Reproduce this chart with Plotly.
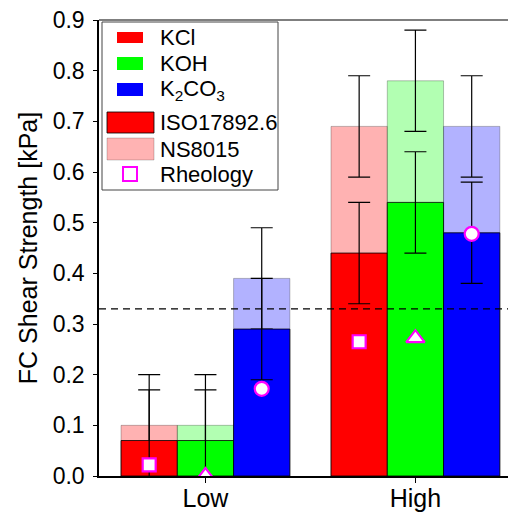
import plotly.graph_objects as go

groups = ["Low", "High"]
colors = ["#ff0000", "#00ff00", "#0000ff"]
light = ["rgba(255,0,0,0.3)", "rgba(0,255,0,0.3)", "rgba(0,0,255,0.3)"]

# values per salt: [Low, High]
iso_vals = {"KCl": [0.07, 0.44], "KOH": [0.07, 0.54], "K2CO3": [0.29, 0.48]}
ns_vals = {"KCl": [0.10, 0.69], "KOH": [0.10, 0.78], "K2CO3": [0.39, 0.69]}
err_vals = [0.10, 0.10]
rheo_vals = {"KCl": [0.022, 0.265], "KOH": [0.0, 0.272], "K2CO3": [0.172, 0.478]}
rheo_symbols = {"KCl": "square", "KOH": "triangle-up", "K2CO3": "circle"}
rheo_sizes = {"KCl": 13, "KOH": 16, "K2CO3": 14}
threshold = 0.33

keys = ["KCl", "KOH", "K2CO3"]
bw = 0.268
offsets = [-bw, 0.0, bw]
xpos = [0, 1]

FONT = "Liberation Sans, Arial, sans-serif"

fig = go.Figure()

for i, k in enumerate(keys):
    fig.add_trace(go.Bar(
        x=[p + offsets[i] for p in xpos], y=ns_vals[k], width=bw,
        marker=dict(color=light[i], line=dict(color="rgba(0,0,0,0.25)", width=1)),
        error_y=dict(type="data", array=err_vals, color="black", thickness=1.2, width=11),
        showlegend=False))
for i, k in enumerate(keys):
    fig.add_trace(go.Bar(
        x=[p + offsets[i] for p in xpos], y=iso_vals[k], width=bw,
        marker=dict(color=colors[i], line=dict(color="rgba(0,0,0,0.8)", width=1)),
        error_y=dict(type="data", array=err_vals, color="black", thickness=1.2, width=11),
        showlegend=False))
for i, k in enumerate(keys):
    fig.add_trace(go.Scatter(
        x=[p + offsets[i] for p in xpos], y=rheo_vals[k], mode="markers",
        marker=dict(symbol=rheo_symbols[k], size=rheo_sizes[k], color="white",
                    line=dict(color="#ff00ff", width=2.2)),
        showlegend=False))

OFF = 8  # page body margin
W, H = 516 - OFF, 512 - OFF
L, R, T, B = 99 - OFF, 516 - OFF, 20 - OFF, 476 - OFF

def px(x):
    return (x - OFF - L) / (R - L)

def py(y):
    return (B - (y - OFF)) / (B - T)

shapes = [
    dict(type="line", xref="paper", yref="y", x0=0, x1=1, y0=threshold, y1=threshold,
         line=dict(color="black", width=1.2, dash="7px,5px")),
    dict(type="line", xref="paper", yref="paper", x0=0, x1=1, y0=1, y1=1,
         line=dict(color="#555", width=1.5)),
    # legend box
    dict(type="rect", xref="paper", yref="paper", x0=px(102), x1=px(278), y0=py(22), y1=py(190),
         line=dict(color="#444", width=1), fillcolor="white", layer="above"),
]
annotations = []
small_patch = [(32, 43), (57, 70), (83, 96)]
text_y = [37.5, 63.5, 90, 122, 149, 174]
labels = ["KCl", "KOH", "K<sub>2</sub>CO<sub>3</sub>", "ISO17892.6", "NS8015", "Rheology"]
for i in range(3):
    y0, y1 = small_patch[i]
    shapes.append(dict(type="rect", xref="paper", yref="paper", x0=px(117), x1=px(143),
                       y0=py(y1), y1=py(y0), fillcolor=colors[i], line=dict(width=0), layer="above"))
shapes.append(dict(type="rect", xref="paper", yref="paper", x0=px(107), x1=px(154),
                   y0=py(133), y1=py(112), fillcolor="#ff0000",
                   line=dict(color="rgba(0,0,0,0.8)", width=1), layer="above"))
shapes.append(dict(type="rect", xref="paper", yref="paper", x0=px(107), x1=px(154),
                   y0=py(160), y1=py(138), fillcolor="#ffb3b3",
                   line=dict(color="rgba(0,0,0,0.2)", width=1), layer="above"))
shapes.append(dict(type="rect", xref="paper", yref="paper", x0=px(123), x1=px(137),
                   y0=py(181), y1=py(167), fillcolor="white",
                   line=dict(color="#ff00ff", width=2), layer="above"))
for t, yy in zip(labels, text_y):
    annotations.append(dict(xref="paper", yref="paper", x=px(158), y=py(yy), text=t,
                            showarrow=False, xanchor="left", yanchor="middle",
                            font=dict(size=22, color="black", family=FONT)))

fig.update_layout(
    width=W, height=H, barmode="overlay",
    plot_bgcolor="white", paper_bgcolor="white",
    margin=dict(l=L, r=W - R, t=T, b=H - B, autoexpand=False),
    font=dict(family=FONT, size=22, color="black"),
    shapes=shapes, annotations=annotations,
    xaxis=dict(range=[-0.507, 1.479], tickvals=xpos, ticktext=groups, ticks="outside",
               ticklen=5, tickcolor="black", showline=True, linecolor="black", linewidth=1.5,
               showgrid=False, zeroline=False, tickfont=dict(size=25, family=FONT),
               ticklabelstandoff=-6, ticklabeloverflow="allow"),
    yaxis=dict(range=[0, 0.9], dtick=0.1, tickformat=".1f", ticks="outside", ticklen=4,
               tickcolor="black", showline=True, linecolor="black", linewidth=1.5,
               showgrid=False, zeroline=False, tickfont=dict(size=23, family=FONT),
               ticklabelstandoff=4, ticklabeloverflow="allow",
               title=dict(text="FC Shear Strength [kPa]", font=dict(size=25, family=FONT), standoff=8)),
)

fig.write_html("out.html")
